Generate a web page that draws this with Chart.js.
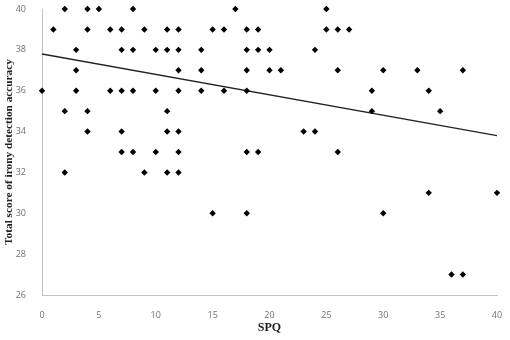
<!DOCTYPE html>
<html>
<head>
<meta charset="utf-8">
<script src="https://cdn.jsdelivr.net/npm/chart.js@4"></script>
<style>
  html, body { margin: 0; padding: 0; background: #fff; }
  #wrap { width: 510px; height: 340px; }
</style>
</head>
<body>
<div id="wrap"><canvas id="chart" width="510" height="340"></canvas></div>
<script>
// SPQ score (x) and irony detection total (y), one entry per participant
const spq = [
  2, 4, 5, 8, 17, 25,
  1, 4, 6, 7, 9, 11, 12, 15, 16, 18, 19, 25, 26, 27,
  3, 7, 8, 10, 11, 12, 14, 18, 19, 20, 24,
  3, 12, 14, 18, 20, 21, 26, 30, 33, 37,
  0, 3, 6, 7, 8, 10, 12, 14, 16, 18, 29, 34,
  2, 4, 11, 29, 35,
  4, 7, 11, 12, 23, 24,
  7, 8, 10, 12, 18, 19, 26,
  2, 9, 11, 12,
  34, 40,
  15, 18, 30,
  36, 37
];
const irony = [
  40, 40, 40, 40, 40, 40,
  39, 39, 39, 39, 39, 39, 39, 39, 39, 39, 39, 39, 39, 39,
  38, 38, 38, 38, 38, 38, 38, 38, 38, 38, 38,
  37, 37, 37, 37, 37, 37, 37, 37, 37, 37,
  36, 36, 36, 36, 36, 36, 36, 36, 36, 36, 36, 36,
  35, 35, 35, 35, 35,
  34, 34, 34, 34, 34, 34,
  33, 33, 33, 33, 33, 33, 33,
  32, 32, 32, 32,
  31, 31,
  30, 30, 30,
  27, 27
];
// linear trend line ends as drawn
const trendX = [0, 40];
const trendY = [37.8, 33.8];

const xTicks = [0, 5, 10, 15, 20, 25, 30, 35, 40];
const yTicks = [26, 28, 30, 32, 34, 36, 38, 40];

const points = spq.map((v, i) => ({ x: v, y: irony[i] }));
const trend = trendX.map((v, i) => ({ x: v, y: trendY[i] }));

const tickFont = { family: "'Open Sans', 'Liberation Sans', sans-serif", size: 9 };
const serif = "'Liberation Serif', 'DejaVu Serif', serif";

new Chart(document.getElementById('chart').getContext('2d'), {
  type: 'scatter',
  data: {
    datasets: [
      {
        label: 'scores',
        data: points,
        pointStyle: 'rectRot',
        pointRadius: 3.2,
        backgroundColor: '#000',
        borderColor: '#000',
        borderWidth: 0,
        clip: false
      },
      {
        label: 'trend',
        data: trend,
        showLine: true,
        pointRadius: 0,
        borderColor: '#222',
        borderWidth: 1.4,
        fill: false
      }
    ]
  },
  options: {
    responsive: false,
    animation: false,
    layout: { padding: { top: 9, right: 13, left: 0, bottom: 0 } },
    plugins: { legend: { display: false }, tooltip: { enabled: false } },
    scales: {
      x: {
        type: 'linear',
        min: 0, max: 40,
        afterBuildTicks: s => { s.ticks = xTicks.map(v => ({ value: v })); },
        afterFit: s => { s.height = 45; s.paddingLeft = 0; s.paddingRight = 0; },
        grid: { display: false },
        border: { display: true, color: '#c0c0c0', width: 1 },
        ticks: { color: '#707070', font: tickFont, padding: 7, maxRotation: 0 },
        title: { display: true, text: 'SPQ', color: '#222', font: { family: serif, size: 12, weight: 'bold' }, padding: { top: 0, bottom: 5 } }
      },
      y: {
        type: 'linear',
        min: 26, max: 40,
        afterBuildTicks: s => { s.ticks = yTicks.map(v => ({ value: v })); },
        afterFit: s => { s.width = 42; s.paddingTop = 0; s.paddingBottom = 0; },
        grid: { display: false },
        border: { display: true, color: '#c0c0c0', width: 1 },
        ticks: { color: '#707070', font: tickFont, padding: 8 },
        title: { display: true, text: 'Total score of irony detection accuracy', color: '#222', font: { family: serif, size: 11.3, weight: 'bold' }, padding: { top: 2, bottom: 0 } }
      }
    }
  }
});
</script>
</body>
</html>
